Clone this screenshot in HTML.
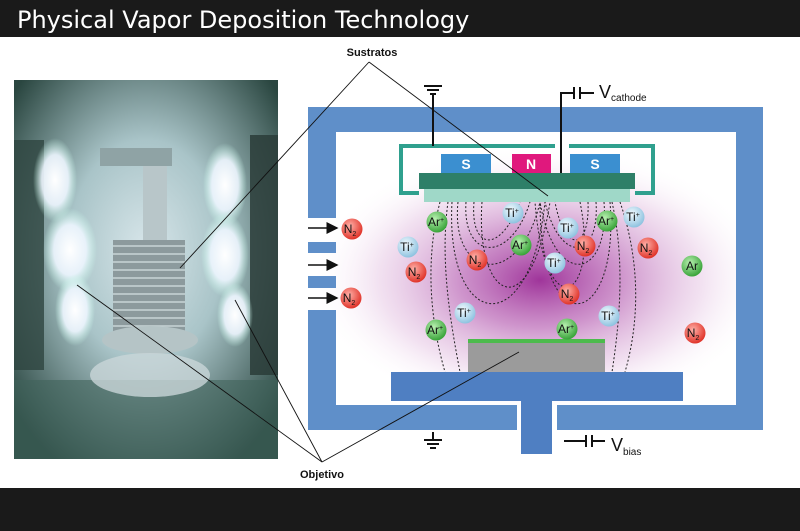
<!DOCTYPE html>
<html><head><meta charset="utf-8"><style>
html,body{margin:0;padding:0;background:#fff;}
body{width:800px;height:531px;overflow:hidden;position:relative;font-family:"Liberation Sans",sans-serif;}
</style></head><body>
<svg width="800" height="531" viewBox="0 0 800 531" xmlns="http://www.w3.org/2000/svg" style="position:absolute;left:0;top:0">
<defs>
<radialGradient id="glow" cx="0.5" cy="0.5" r="0.5">
<stop offset="0" stop-color="#9a2a95" stop-opacity="0.95"/>
<stop offset="0.35" stop-color="#b45ab0" stop-opacity="0.65"/>
<stop offset="0.7" stop-color="#d9a9d6" stop-opacity="0.35"/>
<stop offset="1" stop-color="#fff" stop-opacity="0"/>
</radialGradient>
<radialGradient id="photo" cx="0.5" cy="0.45" r="0.65">
<stop offset="0" stop-color="#d8e6ea"/>
<stop offset="0.45" stop-color="#a9c4c8"/>
<stop offset="1" stop-color="#2a4640"/>
</radialGradient>
<radialGradient id="wglow" cx="0.5" cy="0.5" r="0.5">
<stop offset="0" stop-color="#fff" stop-opacity="1"/>
<stop offset="0.6" stop-color="#eef6ff" stop-opacity="0.9"/>
<stop offset="1" stop-color="#cfe" stop-opacity="0"/>
</radialGradient>
<radialGradient id="gR" cx="0.4" cy="0.35" r="0.65"><stop offset="0" stop-color="#ffb0a8"/><stop offset="1" stop-color="#e0342a"/></radialGradient>
<radialGradient id="gG" cx="0.4" cy="0.35" r="0.65"><stop offset="0" stop-color="#b8f0b0"/><stop offset="1" stop-color="#3aa43a"/></radialGradient>
<radialGradient id="gB" cx="0.4" cy="0.35" r="0.65"><stop offset="0" stop-color="#f4fbff"/><stop offset="1" stop-color="#8fc3e0"/></radialGradient>
<marker id="ar" markerWidth="8" markerHeight="8" refX="7" refY="4" orient="auto"><path d="M0,0 L8,4 L0,8 z" fill="#111"/></marker>
</defs>
<rect x="0" y="0" width="800" height="37" fill="#1a1a1a"/>
<text x="17" y="28" font-family="'Comic Sans MS','DejaVu Sans',sans-serif" font-size="24" fill="#fff">Physical Vapor Deposition Technology</text>
<rect x="0" y="488" width="800" height="43" fill="#1a1a1a"/>

<rect x="14" y="80" width="264" height="379" fill="url(#photo)"/>
<rect x="14" y="140" width="30" height="230" fill="#2e4540" opacity="0.8"/>
<rect x="250" y="135" width="28" height="240" fill="#2a3c38" opacity="0.85"/>
<rect x="14" y="380" width="264" height="79" fill="#3f625a" opacity="0.6"/>
<ellipse cx="55" cy="180" rx="22" ry="42" fill="url(#wglow)"/>
<ellipse cx="70" cy="250" rx="27" ry="42" fill="url(#wglow)"/>
<ellipse cx="75" cy="310" rx="20" ry="36" fill="url(#wglow)"/>
<ellipse cx="225" cy="185" rx="22" ry="42" fill="url(#wglow)"/>
<ellipse cx="225" cy="255" rx="24" ry="42" fill="url(#wglow)"/>
<ellipse cx="235" cy="315" rx="18" ry="32" fill="url(#wglow)"/>
<rect x="100" y="148" width="72" height="18" fill="#8fa3a5"/>
<rect x="143" y="166" width="24" height="82" fill="#b8c6c9"/>
<rect x="113" y="240" width="72" height="95" fill="#8c9a9d"/>
<g stroke="#c8d4d6" stroke-width="1.5">
<line x1="113" y1="246" x2="185" y2="246"/><line x1="113" y1="254" x2="185" y2="254"/><line x1="113" y1="262" x2="185" y2="262"/><line x1="113" y1="270" x2="185" y2="270"/><line x1="113" y1="278" x2="185" y2="278"/><line x1="113" y1="286" x2="185" y2="286"/><line x1="113" y1="294" x2="185" y2="294"/><line x1="113" y1="302" x2="185" y2="302"/><line x1="113" y1="310" x2="185" y2="310"/><line x1="113" y1="318" x2="185" y2="318"/><line x1="113" y1="326" x2="185" y2="326"/>
</g>
<ellipse cx="150" cy="340" rx="48" ry="14" fill="#b5c4c6"/>
<ellipse cx="150" cy="375" rx="60" ry="22" fill="#c9d6d8" opacity="0.8"/>

<ellipse cx="540" cy="280" rx="230" ry="135" fill="url(#glow)"/>
<path d="M308,107 H763 V430 H557 V405 H736 V132 H336 V218 H308 Z" fill="#5f8fc9"/>
<path d="M308,242 H336 V253 H308 Z M308,276 H336 V288 H308 Z M308,310 H336 V405 H517 V430 H308 Z" fill="#5f8fc9"/>
<rect x="391" y="372" width="292" height="29" fill="#4f7fc2"/>
<rect x="521" y="401" width="31" height="53" fill="#4f7fc2"/>
<g stroke="#111" stroke-width="1.5" marker-end="url(#ar)">
<line x1="308" y1="228" x2="337" y2="228"/><line x1="308" y1="265" x2="337" y2="265"/><line x1="308" y1="298" x2="337" y2="298"/>
</g>
<rect x="468" y="342" width="137" height="30" fill="#9b9b9b"/>
<rect x="468" y="339" width="137" height="4" fill="#4cbb4c"/>
<path d="M555,146 H401 V193 H419" fill="none" stroke="#2fa08e" stroke-width="4"/>
<path d="M569,146 H653 V193 H635" fill="none" stroke="#2fa08e" stroke-width="4"/>
<rect x="441" y="154" width="50" height="19" fill="#3b8fd0"/>
<rect x="512" y="154" width="39" height="19" fill="#e0187d"/>
<rect x="570" y="154" width="50" height="19" fill="#3b8fd0"/>
<g font-weight="bold" font-size="14" fill="#fff" text-anchor="middle"><text x="466" y="169">S</text><text x="531" y="169">N</text><text x="595" y="169">S</text></g>
<rect x="419" y="173" width="216" height="16" fill="#2e7f68"/>
<rect x="424" y="189" width="206" height="13" fill="#9fd8c8"/>
<g stroke="#111" stroke-width="2" fill="none">
<line x1="433" y1="93" x2="433" y2="146"/>
<line x1="424" y1="86" x2="442" y2="86"/><line x1="427" y1="90" x2="439" y2="90"/><line x1="430" y1="94" x2="436" y2="94"/>
<path d="M561,173 V93 H574"/><line x1="574" y1="87" x2="574" y2="99"/><line x1="580" y1="87" x2="580" y2="99"/><line x1="580" y1="93" x2="594" y2="93"/>
<line x1="433" y1="432" x2="433" y2="440"/><line x1="424" y1="440" x2="442" y2="440"/><line x1="427" y1="444" x2="439" y2="444"/><line x1="430" y1="448" x2="436" y2="448"/>
<line x1="564" y1="441" x2="586" y2="441"/><line x1="586" y1="435" x2="586" y2="447"/><line x1="592" y1="435" x2="592" y2="447"/><line x1="592" y1="441" x2="605" y2="441"/>
</g>
<text x="599" y="98" font-size="18" fill="#111">V<tspan font-size="10" dy="3">cathode</tspan></text>
<text x="611" y="451" font-size="18" fill="#111">V<tspan font-size="10" dy="4">bias</tspan></text>
<g stroke="#222" stroke-width="1" stroke-dasharray="2,2" fill="none">
<path d="M440,202 C425,260 430,320 445,372"/><path d="M448,202 C440,260 450,320 460,372"/>
<path d="M620,202 C640,260 640,320 625,372"/><path d="M612,202 C625,260 620,320 612,372"/>
<path d="M458,202 C450,280 520,290 540,202"/><path d="M466,202 C462,260 510,265 530,202"/>
<path d="M474,202 C470,250 500,255 520,202"/><path d="M482,202 C475,300 530,330 550,202"/>
<path d="M596,202 C600,260 560,265 545,202"/><path d="M604,202 C610,280 555,290 540,202"/>
<path d="M588,202 C590,250 565,255 555,202"/><path d="M580,202 C600,300 545,330 535,202"/>
<path d="M452,202 C445,330 530,345 545,202"/><path d="M610,202 C620,330 540,345 540,202"/>
</g>
<g font-size="12" text-anchor="middle" fill="#111">
<g><circle cx="437" cy="222" r="10.5" fill="url(#gG)"/><text x="436" y="226">Ar<tspan font-size="7" dy="-4">+</tspan></text></g>
<g><circle cx="521" cy="245" r="10.5" fill="url(#gG)"/><text x="520" y="249">Ar<tspan font-size="7" dy="-4">+</tspan></text></g>
<g><circle cx="607" cy="221" r="10.5" fill="url(#gG)"/><text x="606" y="225">Ar<tspan font-size="7" dy="-4">+</tspan></text></g>
<g><circle cx="436" cy="330" r="10.5" fill="url(#gG)"/><text x="435" y="334">Ar<tspan font-size="7" dy="-4">+</tspan></text></g>
<g><circle cx="567" cy="329" r="10.5" fill="url(#gG)"/><text x="566" y="333">Ar<tspan font-size="7" dy="-4">+</tspan></text></g>
<g><circle cx="692" cy="266" r="10.5" fill="url(#gG)"/><text x="692" y="270">Ar</text></g>
<g><circle cx="513" cy="213" r="10.5" fill="url(#gB)"/><text x="512" y="217">Ti<tspan font-size="7" dy="-4">+</tspan></text></g>
<g><circle cx="568" cy="228" r="10.5" fill="url(#gB)"/><text x="567" y="232">Ti<tspan font-size="7" dy="-4">+</tspan></text></g>
<g><circle cx="408" cy="247" r="10.5" fill="url(#gB)"/><text x="407" y="251">Ti<tspan font-size="7" dy="-4">+</tspan></text></g>
<g><circle cx="555" cy="263" r="10.5" fill="url(#gB)"/><text x="554" y="267">Ti<tspan font-size="7" dy="-4">+</tspan></text></g>
<g><circle cx="634" cy="217" r="10.5" fill="url(#gB)"/><text x="633" y="221">Ti<tspan font-size="7" dy="-4">+</tspan></text></g>
<g><circle cx="465" cy="313" r="10.5" fill="url(#gB)"/><text x="464" y="317">Ti<tspan font-size="7" dy="-4">+</tspan></text></g>
<g><circle cx="609" cy="316" r="10.5" fill="url(#gB)"/><text x="608" y="320">Ti<tspan font-size="7" dy="-4">+</tspan></text></g>
<g><circle cx="352" cy="229" r="10.5" fill="url(#gR)"/><text x="350" y="233">N<tspan font-size="7" dy="3">2</tspan></text></g>
<g><circle cx="416" cy="272" r="10.5" fill="url(#gR)"/><text x="414" y="276">N<tspan font-size="7" dy="3">2</tspan></text></g>
<g><circle cx="477" cy="260" r="10.5" fill="url(#gR)"/><text x="475" y="264">N<tspan font-size="7" dy="3">2</tspan></text></g>
<g><circle cx="585" cy="246" r="10.5" fill="url(#gR)"/><text x="583" y="250">N<tspan font-size="7" dy="3">2</tspan></text></g>
<g><circle cx="648" cy="248" r="10.5" fill="url(#gR)"/><text x="646" y="252">N<tspan font-size="7" dy="3">2</tspan></text></g>
<g><circle cx="351" cy="298" r="10.5" fill="url(#gR)"/><text x="349" y="302">N<tspan font-size="7" dy="3">2</tspan></text></g>
<g><circle cx="569" cy="294" r="10.5" fill="url(#gR)"/><text x="567" y="298">N<tspan font-size="7" dy="3">2</tspan></text></g>
<g><circle cx="695" cy="333" r="10.5" fill="url(#gR)"/><text x="693" y="337">N<tspan font-size="7" dy="3">2</tspan></text></g>
</g>
<text x="372" y="56" font-size="11" font-weight="bold" fill="#111" text-anchor="middle">Sustratos</text>
<text x="322" y="478" font-size="11" font-weight="bold" fill="#111" text-anchor="middle">Objetivo</text>
<g stroke="#111" stroke-width="0.9">
<line x1="369" y1="62" x2="180" y2="268"/><line x1="369" y1="62" x2="548" y2="196"/>
<line x1="322" y1="462" x2="77" y2="285"/><line x1="322" y1="462" x2="235" y2="300"/><line x1="322" y1="462" x2="519" y2="352"/>
</g>
</svg>
</body></html>
